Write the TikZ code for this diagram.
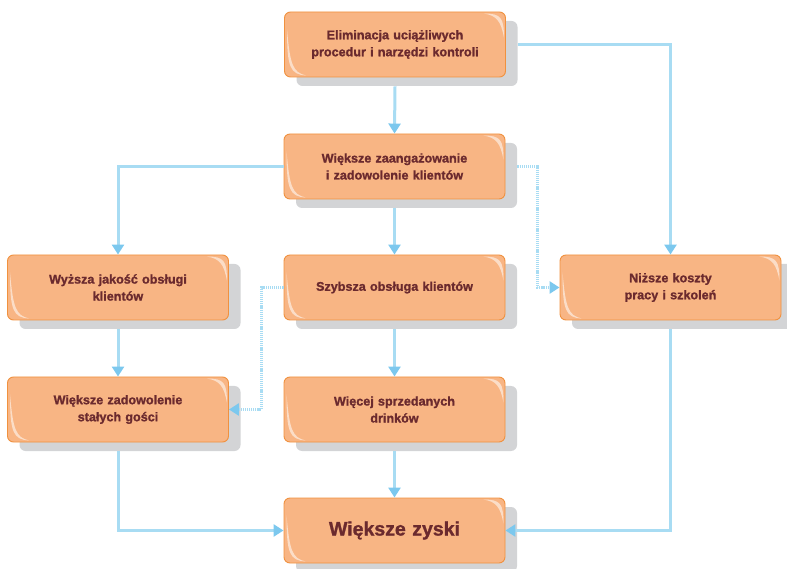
\documentclass[tikz,border=0pt]{standalone}
\usepackage{fontspec}
\setmainfont{Liberation Sans}[BoldFeatures={FakeBold=1.3}]
\usetikzlibrary{arrows.meta,shadows}
\definecolor{boxfill}{HTML}{F8B584}
\definecolor{boxline}{HTML}{F0913F}
\definecolor{boxtext}{HTML}{6B2A2E}
\definecolor{shadowgray}{HTML}{D3D4D6}
\definecolor{linkblue}{HTML}{A8DCF3}
\definecolor{tipblue}{HTML}{7CC8EE}
\newcommand\boxgloss[1]{%
  \fill[white,opacity=0.55] ([shift={(-22,-2)}]#1.north east) .. controls ([shift={(-5,-2)}]#1.north east) and ([shift={(-2,-6)}]#1.north east) .. ([shift={(-2,-26)}]#1.north east) .. controls ([shift={(-5,-10)}]#1.north east) and ([shift={(-9,-4)}]#1.north east) .. cycle;
  \fill[white,opacity=0.55] ([shift={(3,48)}]#1.south west) .. controls ([shift={(3,10)}]#1.south west) and ([shift={(6,3)}]#1.south west) .. ([shift={(22,2)}]#1.south west) .. controls ([shift={(9,5)}]#1.south west) and ([shift={(6,12)}]#1.south west) .. cycle;
}
\begin{document}
\begin{tikzpicture}[x=1pt,y=1pt,
  fbox/.style={draw=boxline, line width=0.9pt, fill=boxfill, rounded corners=6pt,
    minimum width=221pt, minimum height=65pt, align=center, text width=210pt,
    font=\bfseries\fontsize{12.6}{17}\selectfont, text=boxtext,
    copy shadow={shadow xshift=12pt, shadow yshift=-9pt, fill=shadowgray, draw=none, opacity=1}},
  link/.style={draw=linkblue, line width=3pt, -{Triangle[width=12pt,length=10pt,color=tipblue]}},
  dlink/.style={link, dash pattern=on 1.2pt off 0.9pt}]
\useasboundingbox (0,0) rectangle (787,568);
\node[fbox] (b1) at (395,523.5) {Eliminacja uciążliwych\\procedur i narzędzi kontroli};
\node[fbox] (b2) at (394.5,401.5) {Większe zaangażowanie\\i zadowolenie klientów};
\node[fbox] (b3) at (118,280.5) {Wyższa jakość obsługi\\klientów};
\node[fbox] (b4) at (394.5,280.5) {Szybsza obsługa klientów};
\node[fbox] (b5) at (670.5,280.5) {Niższe koszty\\pracy i szkoleń};
\node[fbox] (b6) at (118,158.5) {Większe zadowolenie\\stałych gości};
\node[fbox] (b7) at (394.5,158.5) {Więcej sprzedanych\\drinków};
\node[fbox, font=\bfseries\fontsize{19.5}{22}\selectfont] (b8) at (394.5,37.5) {Większe zyski};
\foreach \n in {b1,b2,b3,b4,b5,b6,b7,b8} {\boxgloss{\n}}
\draw[link] ([yshift=-9pt]b1.south) -- (b2.north);
\draw[link] ([xshift=12pt]b1.east) -| (b5.north);
\draw[link] (b2.west) -| (b3.north);
\draw[link] ([yshift=-9pt]b2.south) -- (b4.north);
\draw[dlink] ([xshift=12pt]b2.east) -- ++(20,0) |- (b5.west);
\draw[dlink] (b4.west) -- ++(-22,0) |- (b6.east);
\draw[link] ([yshift=-9pt]b3.south) -- (b6.north);
\draw[link] ([yshift=-9pt]b4.south) -- (b7.north);
\draw[link] ([yshift=-9pt]b7.south) -- (b8.north);
\draw[link] ([yshift=-9pt]b6.south) |- (b8.west);
\draw[link] ([yshift=-9pt]b5.south) |- (b8.east);
\end{tikzpicture}
\end{document}
